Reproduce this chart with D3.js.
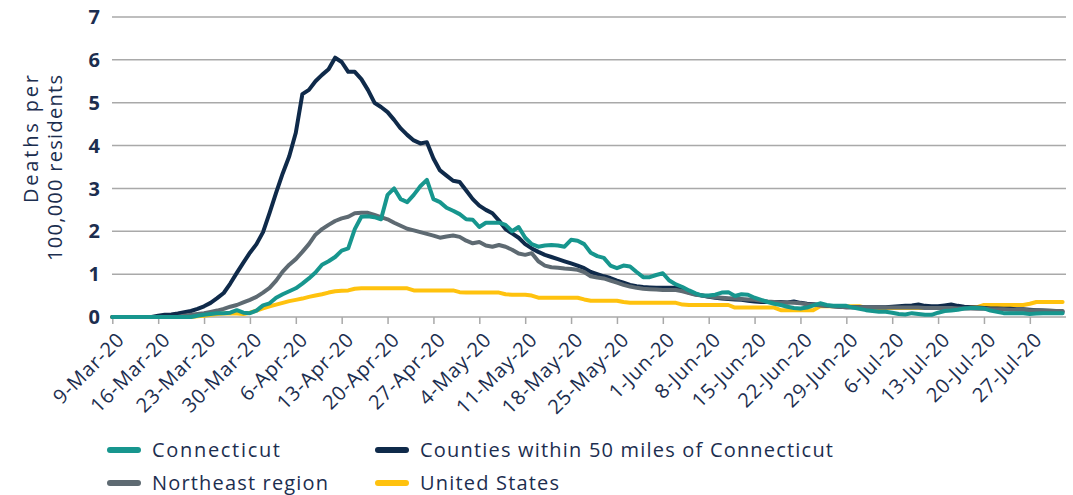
<!DOCTYPE html>
<html><head><meta charset="utf-8">
<script src="https://cdn.jsdelivr.net/npm/d3@7"></script>
<style>
html,body{margin:0;padding:0;background:#fff;}
svg{display:block;font-family:"Open Sans",sans-serif;}
</style></head>
<body><svg id="chart" width="1073" height="495"></svg>
<script>
// ---- data ----
const startDate = "2020-03-09";
const tickLabels = ["9-Mar-20","16-Mar-20","23-Mar-20","30-Mar-20","6-Apr-20","13-Apr-20","20-Apr-20","27-Apr-20","4-May-20","11-May-20","18-May-20","25-May-20","1-Jun-20","8-Jun-20","15-Jun-20","22-Jun-20","29-Jun-20","6-Jul-20","13-Jul-20","20-Jul-20","27-Jul-20"];
const yTicks = [0,1,2,3,4,5,6,7];
const seriesNames = ["Connecticut","Counties within 50 miles of Connecticut","Northeast region","United States"];

const connecticut = [0,0,0,0,0,0,0,0,0,0,0,0,0,
0.03,0.05,0.07,0.09,0.09,0.1,0.16,0.1,0.09,0.15,0.27,0.32,0.45,0.53,0.6,0.67,0.78,0.9,1.04,1.22,1.3,1.4,1.55,1.6,2.05,2.34,2.35,2.33,2.28,2.85,3.0,2.75,2.68,2.85,3.05,3.2,2.75,2.68,2.55,2.48,2.4,2.28,2.27,2.1,2.2,2.2,2.2,2.15,2.0,2.1,1.85,1.7,1.64,1.67,1.68,1.67,1.64,1.8,1.78,1.7,1.5,1.42,1.38,1.2,1.14,1.2,1.18,1.05,0.93,0.93,0.98,1.02,0.85,0.76,0.7,0.62,0.55,0.5,0.5,0.52,0.57,0.58,0.49,0.53,0.52,0.45,0.4,0.35,0.31,0.28,0.24,0.21,0.2,0.22,0.27,0.32,0.28,0.26,0.26,0.26,0.22,0.19,0.16,0.14,0.12,0.12,0.1,0.07,0.06,0.09,0.07,0.05,0.05,0.1,0.14,0.15,0.17,0.2,0.21,0.21,0.2,0.15,0.12,0.09,0.09,0.09,0.09,0.07,0.08,0.09,0.09,0.09,0.09];

const counties = [0,0,0,0,0,0,0,
0.03,0.05,0.06,0.08,0.11,0.14,0.19,0.25,0.33,0.44,0.56,0.78,1.03,1.27,1.5,1.7,1.98,2.43,2.9,3.35,3.75,4.3,5.2,5.3,5.5,5.65,5.78,6.05,5.95,5.72,5.72,5.55,5.3,5.0,4.9,4.78,4.6,4.4,4.25,4.12,4.05,4.08,3.7,3.42,3.3,3.18,3.15,2.95,2.75,2.6,2.5,2.42,2.25,2.05,1.95,1.85,1.7,1.6,1.52,1.45,1.4,1.35,1.3,1.25,1.2,1.14,1.05,1.0,0.95,0.91,0.85,0.8,0.75,0.72,0.7,0.69,0.68,0.68,0.68,0.68,0.63,0.57,0.53,0.5,0.47,0.45,0.43,0.42,0.41,0.4,0.38,0.36,0.35,0.35,0.35,0.35,0.34,0.36,0.33,0.31,0.3,0.28,0.26,0.25,0.24,0.23,0.23,0.23,0.23,0.23,0.23,0.23,0.24,0.25,0.26,0.27,0.29,0.26,0.25,0.25,0.27,0.29,0.26,0.24,0.23,0.22,0.21,0.2,0.2,0.19,0.19,0.18,0.18,0.17,0.16,0.15,0.14,0.13,0.12];

const northeast = [0,0,0,0,0,0,0,0,0,0,0,
0.03,0.05,0.07,0.09,0.12,0.15,0.19,0.24,0.28,0.34,0.4,0.47,0.57,0.68,0.85,1.06,1.22,1.35,1.52,1.7,1.92,2.05,2.15,2.24,2.3,2.34,2.42,2.43,2.43,2.38,2.33,2.28,2.2,2.13,2.06,2.02,1.98,1.94,1.9,1.85,1.88,1.9,1.87,1.78,1.72,1.75,1.67,1.64,1.68,1.64,1.57,1.48,1.45,1.49,1.3,1.2,1.16,1.15,1.13,1.12,1.1,1.05,0.95,0.92,0.9,0.85,0.8,0.75,0.71,0.68,0.66,0.65,0.64,0.63,0.63,0.63,0.6,0.56,0.52,0.5,0.48,0.46,0.45,0.44,0.43,0.42,0.41,0.4,0.38,0.36,0.35,0.34,0.34,0.33,0.32,0.3,0.29,0.27,0.26,0.25,0.24,0.23,0.23,0.23,0.23,0.23,0.22,0.22,0.22,0.22,0.22,0.22,0.22,0.21,0.21,0.21,0.21,0.21,0.2,0.2,0.2,0.19,0.19,0.18,0.18,0.18,0.17,0.17,0.17,0.16,0.16,0.15,0.15,0.14,0.14];

const unitedStates = [0,0,0,0,0,0,0,0,0,0,0,0,0,
0.02,0.03,0.05,0.07,0.08,0.09,0.08,0.07,0.1,0.15,0.2,0.25,0.29,0.33,0.37,0.4,0.43,0.47,0.5,0.53,0.57,0.6,0.61,0.62,0.66,0.67,0.67,0.67,0.67,0.67,0.67,0.67,0.67,0.62,0.62,0.62,0.62,0.62,0.62,0.62,0.58,0.57,0.57,0.57,0.57,0.57,0.57,0.53,0.52,0.52,0.52,0.5,0.45,0.45,0.45,0.45,0.45,0.45,0.45,0.41,0.38,0.38,0.38,0.38,0.38,0.35,0.33,0.33,0.33,0.33,0.33,0.33,0.33,0.33,0.29,0.28,0.28,0.28,0.28,0.28,0.28,0.28,0.22,0.22,0.22,0.22,0.22,0.22,0.22,0.16,0.16,0.16,0.16,0.16,0.16,0.25,0.25,0.25,0.25,0.25,0.25,0.25,0.21,0.21,0.21,0.21,0.21,0.21,0.21,0.21,0.21,0.21,0.23,0.23,0.23,0.23,0.23,0.23,0.23,0.23,0.28,0.28,0.28,0.28,0.28,0.28,0.28,0.31,0.35,0.35,0.35,0.35,0.35];

const colors = ["#17968e","#0f2a4a","#5e6a72","#ffc20e"];

// ---- chart ----
const svg = d3.select("#chart");
const textColor = "#1c2e4f";
const parseLabel = d3.timeParse("%d-%b-%y");
const t0 = d3.timeParse("%Y-%m-%d")(startDate);
const dateOf = i => d3.timeDay.offset(t0, i);
const nDays = connecticut.length;

const x = d3.scaleTime().domain([t0, dateOf(nDays - 1)]).range([112.3, 1062.6]);
const y = d3.scaleLinear().domain([0, 7]).range([317, 17]);
const gridRight = 1066;

// gridlines
svg.append("g").selectAll("line").data(yTicks.filter(d => d > 0)).join("line")
  .attr("x1", 112).attr("x2", gridRight)
  .attr("y1", d => y(d)).attr("y2", d => y(d))
  .attr("stroke", "#a9a9a9").attr("stroke-width", 1.5);

// y labels
svg.append("g").selectAll("text").data(yTicks).join("text")
  .attr("x", 100).attr("y", d => y(d)).attr("dy", "0.36em")
  .attr("text-anchor", "end").attr("font-size", 20).attr("font-weight", 700)
  .attr("fill", textColor).text(d => d);

// y title
const yt = svg.append("text").attr("transform", "translate(38,75) rotate(-90)")
  .attr("text-anchor", "end").attr("font-size", 20).attr("font-weight", 400)
  .attr("lengthAdjust", "spacing").attr("fill", textColor);
yt.append("tspan").attr("x", 0).attr("y", 0).attr("textLength", 128).text("Deaths per");
yt.append("tspan").attr("x", 0).attr("y", 24).attr("textLength", 186).text("100,000 residents");

// x axis
const xAxis = d3.axisBottom(x)
  .tickValues(tickLabels.map(parseLabel))
  .tickFormat((d, i) => tickLabels[i])
  .tickSize(7).tickSizeOuter(0);
const gx = svg.append("g").attr("transform", `translate(0,${y(0)})`).call(xAxis);
gx.select(".domain").attr("d", `M112,0H${gridRight}`).attr("stroke", "#a9a9a9").attr("stroke-width", 1.5);
gx.selectAll(".tick line").attr("stroke", "#a9a9a9").attr("stroke-width", 1.5);
gx.selectAll(".tick text")
  .attr("fill", textColor).attr("font-size", 20).attr("font-weight", 400)
  .attr("letter-spacing", 0.8).attr("font-family", "Open Sans, sans-serif")
  .attr("text-anchor", "end").attr("dy", "0.35em")
  .attr("x", 0).attr("y", 0)
  .attr("transform", "translate(8,19) rotate(-45)");

// lines
const series = [connecticut, counties, northeast, unitedStates];
const line = d3.line().x((d, i) => x(dateOf(i))).y(d => y(d));
const drawOrder = [3, 1, 2, 0];
svg.append("g").selectAll("path").data(drawOrder).join("path")
  .attr("d", k => line(series[k]))
  .attr("fill", "none").attr("stroke", k => colors[k])
  .attr("stroke-width", 4).attr("stroke-linejoin", "round").attr("stroke-linecap", "round");

// legend
const legendPos = [[108,450],[376,450],[108,483],[376,483]];
const legendLen = [128, 413, 176, 139];
const lg = svg.append("g").selectAll("g").data(seriesNames).join("g")
  .attr("transform", (d, i) => `translate(${legendPos[i][0]},${legendPos[i][1]})`);
lg.append("line").attr("x1", 2).attr("x2", 30).attr("y1", 0).attr("y2", 0)
  .attr("stroke", (d, i) => colors[i]).attr("stroke-width", 6).attr("stroke-linecap", "round");
lg.append("text").attr("x", 44).attr("dy", "0.33em").attr("font-size", 20).attr("font-weight", 400)
  .attr("textLength", (d, i) => legendLen[i]).attr("lengthAdjust", "spacing")
  .attr("fill", textColor).text(d => d);
</script></body></html>
